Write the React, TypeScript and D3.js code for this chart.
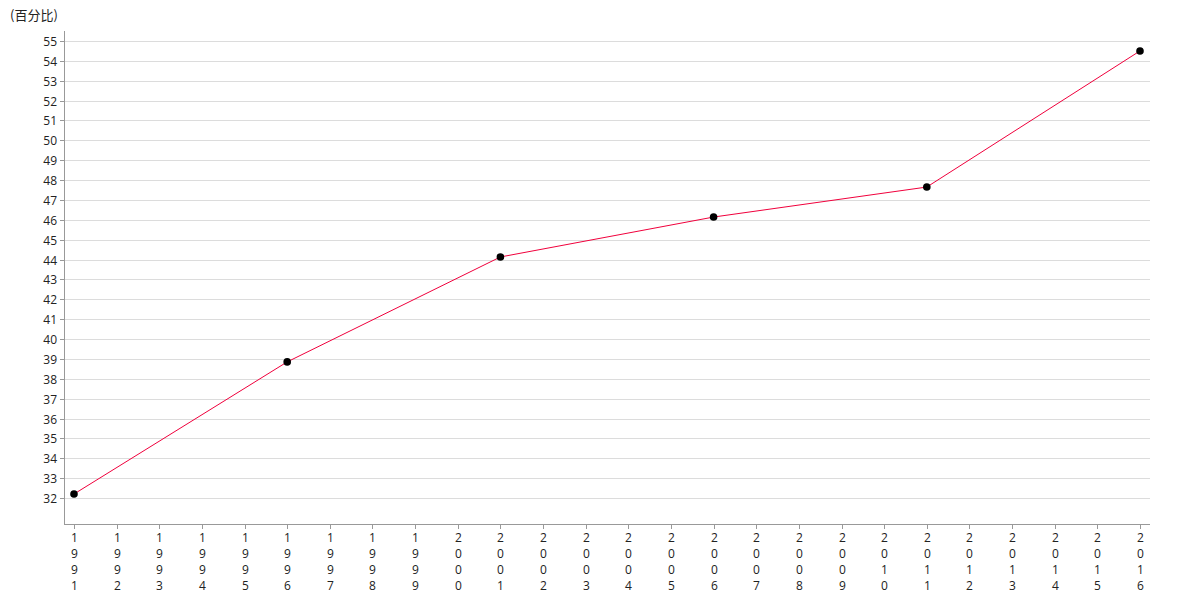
import { useEffect, useRef } from 'react';
import * as d3 from 'd3';

const years = d3.range(1991, 2017).map(String);
const pointYears = ['1991', '1996', '2001', '2006', '2011', '2016'];
const pointValues = [32.2, 38.85, 44.13, 46.14, 47.65, 54.5];
const yTicks = d3.range(32, 56);
const unitLabel = '(百分比)';

export default function App() {
  const svgRef = useRef<SVGSVGElement>(null);

  useEffect(() => {
    if (!svgRef.current) return;
    const svg = d3.select(svgRef.current);
    svg.selectAll('*').remove();

    const left = 64;
    const right = 1150;
    const top = 31;
    const bottom = 524;

    const x = d3.scalePoint<string>().domain(years).range([74, 1140]);
    const y = d3.scaleLinear().domain([32, 55]).range([498, 41]);

    const font = '"Open Sans", "Noto Sans", sans-serif';

    // gridlines
    svg.append('g')
      .selectAll('line')
      .data(yTicks)
      .join('line')
      .attr('x1', left)
      .attr('x2', right)
      .attr('y1', d => Math.round(y(d)) + 0.5)
      .attr('y2', d => Math.round(y(d)) + 0.5)
      .attr('stroke', '#dcdcdc')
      .attr('stroke-width', 1);

    // y axis
    svg.append('line')
      .attr('x1', left + 0.5).attr('x2', left + 0.5)
      .attr('y1', top).attr('y2', bottom)
      .attr('stroke', '#999');

    const yg = svg.append('g');
    yTicks.forEach(t => {
      const yy = Math.round(y(t)) + 0.5;
      yg.append('line')
        .attr('x1', left - 4).attr('x2', left)
        .attr('y1', yy).attr('y2', yy)
        .attr('stroke', '#999');
      yg.append('text')
        .attr('x', left - 7)
        .attr('y', yy)
        .attr('dy', '0.35em')
        .attr('text-anchor', 'end')
        .attr('font-family', font)
        .attr('font-size', 12)
        .attr('fill', '#222')
        .text(t);
    });

    // x axis
    svg.append('line')
      .attr('x1', left).attr('x2', right)
      .attr('y1', bottom + 0.5).attr('y2', bottom + 0.5)
      .attr('stroke', '#999');

    const xg = svg.append('g');
    years.forEach(yr => {
      const xx = Math.round(x(yr)!) + 0.5;
      xg.append('line')
        .attr('x1', xx).attr('x2', xx)
        .attr('y1', bottom).attr('y2', bottom + 5)
        .attr('stroke', '#999');
      const txt = xg.append('text')
        .attr('text-anchor', 'middle')
        .attr('font-family', font)
        .attr('font-size', 12)
        .attr('fill', '#222');
      yr.split('').forEach((ch, i) => {
        txt.append('tspan')
          .attr('x', xx)
          .attr('y', bottom + 18 + i * 16)
          .text(ch);
      });
    });

    // line
    const pts = pointYears.map((yr, i) => [x(yr)!, y(pointValues[i])] as [number, number]);
    svg.append('path')
      .attr('d', d3.line()(pts))
      .attr('fill', 'none')
      .attr('stroke', '#f0003c')
      .attr('stroke-width', 1);

    svg.append('g')
      .selectAll('circle')
      .data(pts)
      .join('circle')
      .attr('cx', d => d[0])
      .attr('cy', d => d[1])
      .attr('r', 3.8)
      .attr('fill', '#000');

    svg.append('text')
      .attr('x', 10)
      .attr('y', 20)
      .attr('font-family', '"Noto Sans CJK SC", "Noto Sans", sans-serif')
      .attr('font-size', 13)
      .attr('fill', '#222')
      .text(unitLabel);
  }, []);

  return (
    <svg
      ref={svgRef}
      width={1180}
      height={600}
      style={{ position: 'absolute', left: 0, top: 0, background: '#fff' }}
    />
  );
}
